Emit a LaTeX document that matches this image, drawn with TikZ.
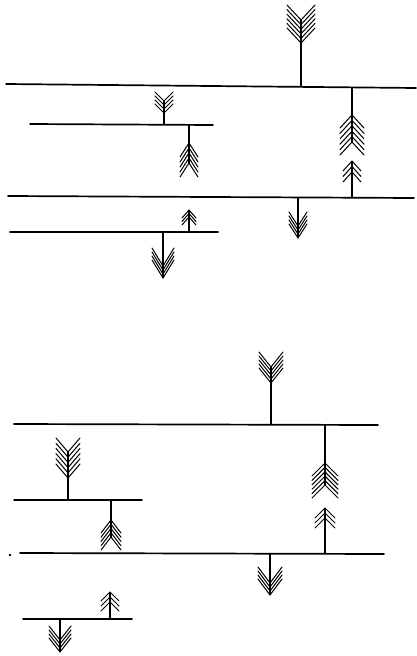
\documentclass[tikz,border=0pt]{standalone}
\begin{document}
\begin{tikzpicture}[x=1pt,y=-1pt,
  rule/.style={line width=1.7pt,line cap=round},
  stem/.style={line width=1.1pt},
  feather/.style={line width=1.0pt,line cap=round,line join=miter}]
\useasboundingbox (0,0) rectangle (416,656);
\newcommand\fletching[6]{%
  \foreach \i in {1,...,#4}{%
    \pgfmathsetmacro\yy{#2+(\i-1)*(#3)}%
    \draw[feather] (#1-#5,\yy+#6) -- (#1,\yy) -- (#1+#5,\yy+#6);}}
% ---------- upper figure: horizontal lines ----------
\coordinate (L1a) at (6,84);   \coordinate (L1b) at (416,88);
\coordinate (L2a) at (30,124); \coordinate (L2b) at (213,125);
\coordinate (L3a) at (8,196);  \coordinate (L3b) at (414,198);
\coordinate (L4a) at (10,232); \coordinate (L4b) at (218,232);
\draw[rule] (L1a) -- (L1b);
\draw[rule] (L2a) -- (L2b);
\draw[rule] (L3a) -- (L3b);
\draw[rule] (L4a) -- (L4b);
% arrow 1
\coordinate (a1t) at (301,20); \coordinate (a1b) at (301,86.5);
\draw[stem] (a1t) -- (a1b);
\fletching{301}{20}{4.6}{6}{14}{-15}
% arrow 2
\coordinate (a2t) at (164,101); \coordinate (a2b) at (164,124);
\draw[stem] (a2t) -- (a2b);
\fletching{164}{101}{4}{4}{9}{-9}
% arrow 3
\coordinate (a3t) at (189,125); \coordinate (a3b) at (189,163);
\draw[stem] (a3t) -- (a3b);
\fletching{189}{143}{5}{5}{9}{14}
% arrow 4
\coordinate (a4t) at (352,87.5); \coordinate (a4b) at (352,197.5);
\draw[stem] (a4t) -- (352,142);
\fletching{352}{115}{5.4}{6}{12}{13}
\coordinate (a4m) at (352,161);
\draw[stem] (a4m) -- (a4b);
\fletching{352}{161}{5.5}{3}{9}{10}
% arrow 5
\coordinate (a5t) at (189,210); \coordinate (a5b) at (189,232);
\draw[stem] (a5t) -- (a5b);
\fletching{189}{210}{3.5}{3}{7}{8}
% arrow 6
\coordinate (a6t) at (163,232); \coordinate (a6b) at (163,278);
\draw[stem] (a6t) -- (a6b);
\fletching{163}{266}{4}{4}{11}{-18}
% arrow 7
\coordinate (a7t) at (298,197); \coordinate (a7b) at (298,238);
\draw[stem] (a7t) -- (a7b);
\fletching{298}{226}{4}{4}{9}{-14}
% ---------- lower figure ----------
\coordinate (L5a) at (14,424); \coordinate (L5b) at (378,425);
\coordinate (L6a) at (14,500); \coordinate (L6b) at (142,500);
\coordinate (L7a) at (20,553); \coordinate (L7b) at (384,554);
\coordinate (L8a) at (23,619); \coordinate (L8b) at (132,619);
\draw[rule] (L5a) -- (L5b);
\draw[rule] (L6a) -- (L6b);
\draw[rule] (L7a) -- (L7b);
\draw[rule] (L8a) -- (L8b);
\fill (10,555) circle (1.3);
% arrow 8
\coordinate (a8t) at (271,367); \coordinate (a8b) at (271,424.5);
\draw[stem] (a8t) -- (a8b);
\fletching{271}{367}{4}{5}{12}{-15}
% arrow 9
\coordinate (a9t) at (68,452); \coordinate (a9b) at (68,500);
\draw[stem] (a9t) -- (a9b);
\fletching{68}{452}{5.2}{6}{12}{-14}
% arrow 10
\coordinate (a10t) at (111,500); \coordinate (a10b) at (111,537);
\draw[stem] (a10t) -- (a10b);
\fletching{111}{520}{4.25}{5}{10}{13}
% arrow 11
\coordinate (a11t) at (325,425); \coordinate (a11b) at (325,553.5);
\draw[stem] (a11t) -- (325,485);
\fletching{325}{463}{4.4}{6}{13}{13}
\coordinate (a11m) at (325,508);
\draw[stem] (a11m) -- (a11b);
\fletching{325}{508}{5}{3}{10}{10}
% arrow 12
\coordinate (a12t) at (270,553.5); \coordinate (a12b) at (270,595);
\draw[stem] (a12t) -- (a12b);
\fletching{270}{583}{4}{4}{12}{-16}
% arrow 13
\coordinate (a13t) at (110,592); \coordinate (a13b) at (110,619);
\draw[stem] (a13t) -- (a13b);
\fletching{110}{592}{5}{3}{9}{9}
% arrow 14
\coordinate (a14t) at (60,619); \coordinate (a14b) at (60,652);
\draw[stem] (a14t) -- (a14b);
\fletching{60}{640}{4}{4}{11}{-14}
\end{tikzpicture}
\end{document}
